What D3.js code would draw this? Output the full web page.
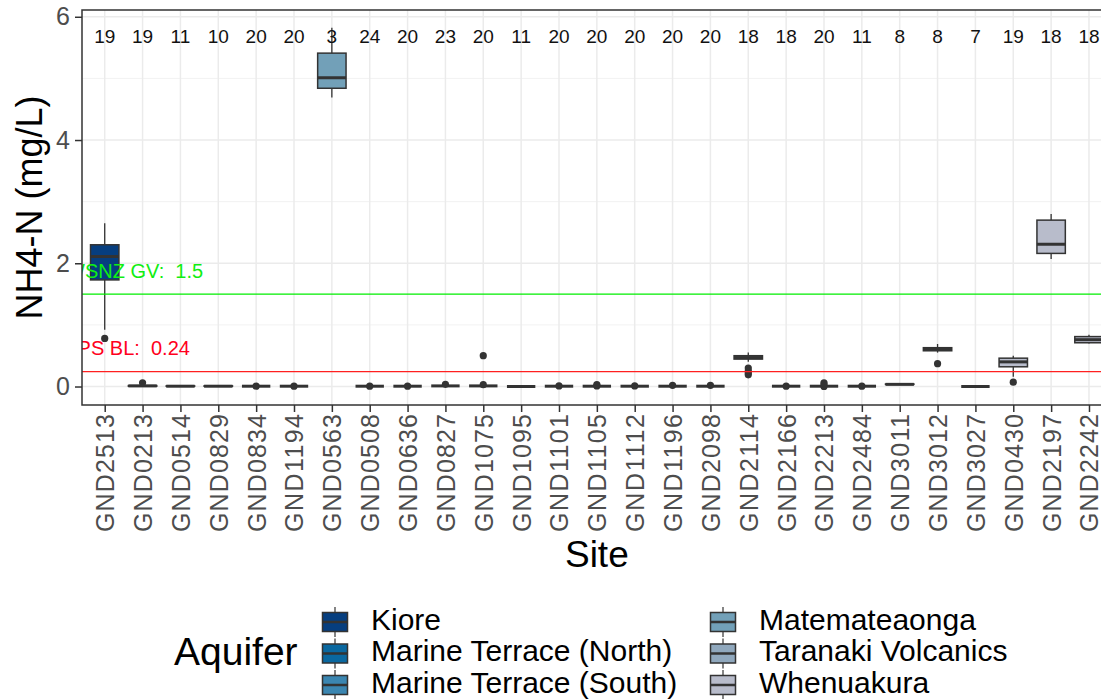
<!DOCTYPE html>
<html>
<head>
<meta charset="utf-8">
<script src="https://cdn.jsdelivr.net/npm/d3@7"></script>
<style>
  body { margin: 0; background: #fff; }
  svg { font-family: "Liberation Sans", Arial, sans-serif; display: block; }
</style>
</head>
<body>
<div id="chart"></div>
<script>
// sites in axis order and their aquifer
const sites = ["GND2513","GND0213","GND0514","GND0829","GND0834","GND1194","GND0563","GND0508","GND0636","GND0827",
  "GND1075","GND1095","GND1101","GND1105","GND1112","GND1196","GND2098","GND2114","GND2166","GND2213",
  "GND2484","GND3011","GND3012","GND3027","GND0430","GND2197","GND2242"]
const siteAquifer = ["Kiore","Marine Terrace (North)","Marine Terrace (North)","Marine Terrace (North)","Marine Terrace (North)","Marine Terrace (North)",
  "Matemateaonga","Taranaki Volcanics","Taranaki Volcanics","Taranaki Volcanics","Taranaki Volcanics","Taranaki Volcanics",
  "Taranaki Volcanics","Taranaki Volcanics","Taranaki Volcanics","Taranaki Volcanics","Taranaki Volcanics","Taranaki Volcanics",
  "Taranaki Volcanics","Taranaki Volcanics","Taranaki Volcanics","Taranaki Volcanics","Taranaki Volcanics","Taranaki Volcanics",
  "Whenuakura","Whenuakura","Whenuakura"]
const counts = [19,19,11,10,20,20,3,24,20,23,20,11,20,20,20,20,20,18,18,20,11,8,8,7,19,18,18]

// box stats (mg/L)
const whiskerLow  = [0.92,0,0,0,0.005,0.005,4.69,0.005,0.005,0.01,0.01,0,0.005,0.005,0.005,0.005,0.005,0.40,0.005,0.005,0.005,0.03,0.55,0,0.16,2.07,0.70]
const q1          = [1.73,0.005,0.005,0.005,0.005,0.005,4.84,0.005,0.005,0.01,0.01,0,0.005,0.005,0.005,0.005,0.005,0.445,0.005,0.005,0.005,0.035,0.58,0,0.32,2.16,0.71]
const median      = [2.11,0.01,0.005,0.005,0.005,0.005,5.01,0.005,0.005,0.01,0.01,0,0.005,0.005,0.005,0.005,0.005,0.47,0.005,0.005,0.005,0.035,0.61,0,0.40,2.31,0.76]
const q3          = [2.30,0.015,0.01,0.01,0.005,0.005,5.41,0.005,0.005,0.01,0.01,0,0.005,0.005,0.005,0.005,0.005,0.50,0.005,0.005,0.005,0.04,0.63,0,0.46,2.70,0.81]
const whiskerHigh = [2.65,0.02,0.01,0.01,0.005,0.005,5.82,0.005,0.005,0.01,0.01,0,0.005,0.005,0.005,0.005,0.005,0.55,0.005,0.005,0.005,0.04,0.69,0,0.50,2.80,0.84]
const outliers = [[0.78],[0.06],[],[],[0.005],[0.005],[],[0.005],[0.005],[0.035],[0.03,0.50],[],[0.01],[0.01,0.03],[0.01],[0.02],[0.02],
  [0.19,0.22,0.25,0.30],[0.005],[0,0.03,0.06],[0.005],[],[0.37],[],[0.07],[],[]]

const aquifers = ["Kiore","Marine Terrace (North)","Marine Terrace (South)","Matemateaonga","Taranaki Volcanics","Whenuakura"]
const aquiferColors = ["#063e7f","#0a68a0","#3b86b1","#72a0b8","#90a8bd","#b8bccb"]

// guideline values; labelAt = site index where the label ends
const guides = [
  {value: 1.5, label: "DWSNZ GV:  1.5", color: "#00ee00", text: "#11ee11", labelAt: 2.6},
  {value: 0.24, label: "HAPS BL:  0.24", color: "#ff2020", text: "#ff0020", labelAt: 2.25}
]

const yTicks = [0, 2, 4, 6]
const yMinor = [1, 3, 5]

const W = 1101, H = 699
const margin = {top: 10, left: 82, bottom: 294}
const panelRight = 1111.7
const panelBottom = H - margin.bottom

const svg = d3.select("#chart").append("svg").attr("width", W).attr("height", H)

const x = d3.scalePoint().domain(sites).range([margin.left, panelRight]).padding(0.6)
const y = d3.scaleLinear().domain([-0.30, 6.11]).range([panelBottom, margin.top])
const color = d3.scaleOrdinal().domain(aquifers).range(aquiferColors)
const boxW = x.step() * 0.75

svg.append("defs").append("clipPath").attr("id", "panel")
  .append("rect").attr("x", margin.left).attr("y", margin.top)
  .attr("width", panelRight - margin.left).attr("height", panelBottom - margin.top)

// grid
const grid = svg.append("g")
grid.selectAll("line.minor").data(yMinor).enter().append("line")
  .attr("x1", margin.left).attr("x2", panelRight)
  .attr("y1", d => y(d)).attr("y2", d => y(d))
  .attr("stroke", "#f2f2f2").attr("stroke-width", 1)
grid.selectAll("line.major").data(yTicks).enter().append("line")
  .attr("x1", margin.left).attr("x2", panelRight)
  .attr("y1", d => y(d)).attr("y2", d => y(d))
  .attr("stroke", "#ebebeb").attr("stroke-width", 1.5)
grid.selectAll("line.vert").data(sites).enter().append("line")
  .attr("x1", d => x(d)).attr("x2", d => x(d))
  .attr("y1", margin.top).attr("y2", panelBottom)
  .attr("stroke", "#ebebeb").attr("stroke-width", 1.5)

const plot = svg.append("g").attr("clip-path", "url(#panel)")

// boxes
const boxes = plot.selectAll("g.box").data(sites).enter().append("g")
boxes.append("line")
  .attr("x1", d => x(d)).attr("x2", d => x(d))
  .attr("y1", (d, i) => y(whiskerHigh[i])).attr("y2", (d, i) => y(q3[i]))
  .attr("stroke", "#333").attr("stroke-width", 1.3)
boxes.append("line")
  .attr("x1", d => x(d)).attr("x2", d => x(d))
  .attr("y1", (d, i) => y(q1[i])).attr("y2", (d, i) => y(whiskerLow[i]))
  .attr("stroke", "#333").attr("stroke-width", 1.3)
boxes.append("rect")
  .attr("x", d => x(d) - boxW / 2).attr("width", boxW)
  .attr("y", (d, i) => y(q3[i])).attr("height", (d, i) => y(q1[i]) - y(q3[i]))
  .attr("fill", (d, i) => color(siteAquifer[i]))
  .attr("stroke", "#333").attr("stroke-width", 1.5)
boxes.append("line")
  .attr("x1", d => x(d) - boxW / 2).attr("x2", d => x(d) + boxW / 2)
  .attr("y1", (d, i) => y(median[i])).attr("y2", (d, i) => y(median[i]))
  .attr("stroke", "#333").attr("stroke-width", 3)
boxes.selectAll("circle").data((d, i) => outliers[i].map(v => ({site: d, v: v}))).enter().append("circle")
  .attr("cx", d => x(d.site)).attr("cy", d => y(d.v)).attr("r", 3.6)
  .attr("fill", "#333")

// guide lines and labels
guides.forEach(g => {
  plot.append("line")
    .attr("x1", margin.left).attr("x2", panelRight)
    .attr("y1", y(g.value)).attr("y2", y(g.value))
    .attr("stroke", g.color).attr("stroke-width", 1.3)
  plot.append("text")
    .attr("x", x(sites[0]) + x.step() * g.labelAt)
    .attr("y", y(g.value + 0.35))
    .attr("text-anchor", "end").attr("dominant-baseline", "middle")
    .attr("font-size", 20).attr("fill", g.text)
    .style("white-space", "pre")
    .text(g.label)
})

// counts
plot.selectAll("text.count").data(sites).enter().append("text")
  .attr("x", d => x(d)).attr("y", y(5.65))
  .attr("text-anchor", "middle").attr("dominant-baseline", "middle")
  .attr("font-size", 19).attr("fill", "#111")
  .text((d, i) => counts[i])

// panel border
svg.append("rect")
  .attr("x", margin.left).attr("y", margin.top)
  .attr("width", panelRight - margin.left).attr("height", panelBottom - margin.top)
  .attr("fill", "none").attr("stroke", "#333").attr("stroke-width", 1.5)

// axes
const yAxis = svg.append("g").attr("transform", `translate(${margin.left},0)`)
  .call(d3.axisLeft(y).tickValues(yTicks).tickSize(7).tickPadding(5).tickFormat(d3.format("d")))
yAxis.select(".domain").remove()
yAxis.selectAll("line").attr("stroke", "#333").attr("stroke-width", 1.5)
yAxis.selectAll("text").attr("font-size", 25).attr("fill", "#4d4d4d").attr("font-family", null)

const xAxis = svg.append("g").attr("transform", `translate(0,${panelBottom})`)
  .call(d3.axisBottom(x).tickSize(7).tickPadding(3))
xAxis.select(".domain").remove()
xAxis.selectAll("line").attr("stroke", "#333").attr("stroke-width", 1.5)
xAxis.selectAll("text")
  .attr("font-size", 25).attr("fill", "#4d4d4d").attr("font-family", null)
  .attr("transform", "rotate(-90)")
  .attr("x", -9).attr("y", 0).attr("dy", "0.36em")
  .attr("text-anchor", "end")
  .attr("textLength", 118).attr("lengthAdjust", "spacing")

// axis titles
svg.append("text")
  .attr("transform", `translate(32,${(margin.top + panelBottom) / 2}) rotate(-90)`)
  .attr("text-anchor", "middle").attr("dominant-baseline", "middle")
  .attr("font-size", 36).attr("fill", "#000")
  .text("NH4-N (mg/L)")
svg.append("text")
  .attr("x", (margin.left + panelRight) / 2).attr("y", 557)
  .attr("text-anchor", "middle").attr("dominant-baseline", "middle")
  .attr("font-size", 37).attr("fill", "#000")
  .text("Site")

// legend
const legend = svg.append("g")
legend.append("text").attr("x", 174).attr("y", 655)
  .attr("dominant-baseline", "middle").attr("font-size", 39).text("Aquifer")
const rowH = 31.5
const items = legend.selectAll("g.item").data(aquifers).enter().append("g")
  .attr("transform", (d, i) => `translate(${i < 3 ? 335 : 723},${622 + (i % 3) * rowH})`)
items.append("line").attr("x1", 0).attr("x2", 0).attr("y1", -15).attr("y2", 15)
  .attr("stroke", "#333").attr("stroke-width", 1.2)
items.append("rect").attr("x", -12.5).attr("y", -9.5).attr("width", 25).attr("height", 19)
  .attr("fill", d => color(d)).attr("stroke", "#333").attr("stroke-width", 1.5)
items.append("line").attr("x1", -12.5).attr("x2", 12.5).attr("y1", 0).attr("y2", 0)
  .attr("stroke", "#333").attr("stroke-width", 2.5)
items.append("text").attr("x", 36).attr("y", 0)
  .attr("dominant-baseline", "middle").attr("font-size", 30).attr("fill", "#000")
  .text(d => d)
</script>
</body>
</html>
